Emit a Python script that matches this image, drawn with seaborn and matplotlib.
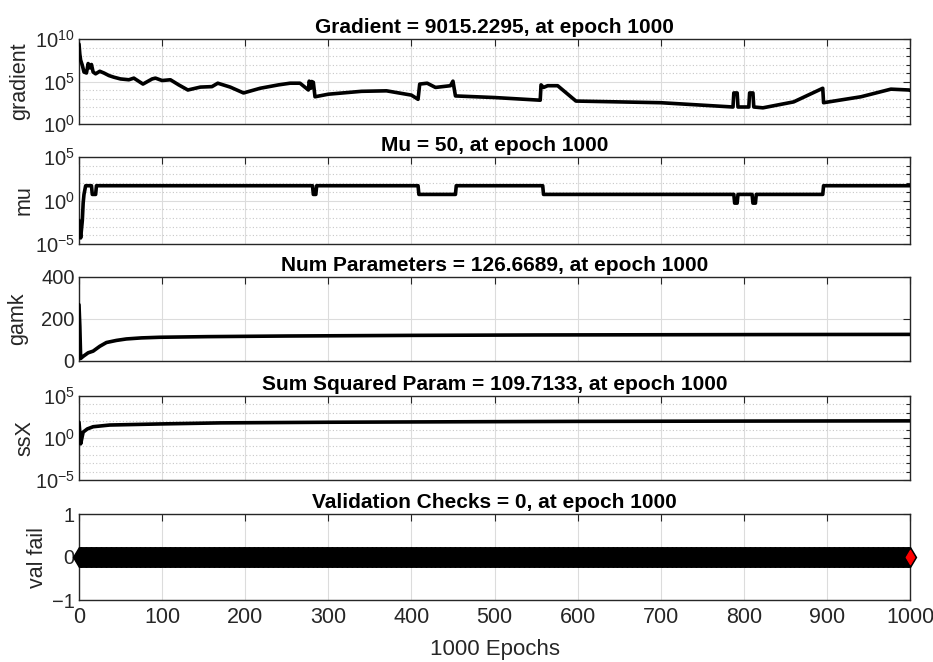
import numpy as np
import pandas as pd
import matplotlib
matplotlib.use("Agg")
import matplotlib.pyplot as plt
import matplotlib.ticker as mticker
import seaborn as sns

# ---------------- data ----------------
grad_epochs = [0, 1, 2, 4, 6, 9, 11, 13, 15, 17, 20, 25, 30, 36, 42, 50, 60, 66, 77, 88, 92,
               100, 110, 120, 131, 146, 160, 167, 182, 198, 218, 240, 254, 266, 276, 277, 278,
               279, 280, 282, 284, 300, 340, 370, 400, 408, 410, 419, 429, 447, 450, 453, 500,
               555, 556, 559, 564, 576, 598, 700, 787, 788, 792, 793, 806, 807, 811, 812, 823,
               860, 895, 896, 941, 977, 999, 1000]
grad_values = [2.5e9, 1.6e8, 3.2e7, 8e6, 1.3e6, 1e6, 1.3e7, 4e6, 1e7, 1.3e6, 8e5, 1.6e6, 1e6,
               5e5, 3.2e5, 2e5, 1.6e5, 2.5e5, 5e4, 2e5, 2.5e5, 1.3e5, 1.6e5, 4e4, 1e4, 2.2e4,
               2.5e4, 6.3e4, 2.2e4, 4.5e3, 1.6e4, 4e4, 6.3e4, 6.3e4, 1e4, 1.1e5, 6.3e4, 1.6e4,
               1e5, 8e4, 1.6e3, 3.2e3, 7e3, 8e3, 2.5e3, 800, 5e4, 6.3e4, 2e4, 3.2e4, 1.1e5, 2e3,
               1.3e3, 630, 4e4, 2e4, 3.2e4, 3.2e4, 500, 320, 100, 4.5e3, 4.5e3, 100, 100, 4.5e3,
               4.5e3, 100, 80, 400, 1.6e4, 320, 1.6e3, 1.26e4, 1e4, 9015.2295]

mu_epochs = [0, 1, 2, 3, 4, 5, 6, 8, 15, 16, 20, 21, 281, 282, 285, 286, 408, 409, 453, 454,
             558, 559, 788, 789, 792, 793, 810, 811, 814, 815, 895, 896, 1000]
mu_values = [0.005, 0.0005, 0.00005, 0.0005, 0.005, 0.5, 5, 50, 50, 5, 5, 50, 50, 5, 5, 50,
             50, 5, 5, 50, 50, 5, 5, 0.5, 0.5, 5, 5, 0.5, 0.5, 5, 5, 50, 50]

gamk_epochs = [0, 1, 2, 5, 11, 17, 25, 33, 45, 57, 75, 97, 154, 250, 400, 550, 700, 850, 1000]
gamk_values = [268, 165, 12, 22, 39, 47, 70, 88, 98, 105, 110, 113, 116, 119, 122, 124, 125,
               126, 126.6689]

ssx_epochs = [0, 1, 2, 5, 10, 17, 37, 97, 170, 300, 450, 600, 800, 1000]
ssx_values = [75, 5, 0.2, 5, 12, 22, 35, 47, 63, 75, 85, 95, 103, 109.7133]

val_epochs = list(range(0, 1001))
val_fail = [0] * len(val_epochs)

titles = ["Gradient = 9015.2295, at epoch 1000",
          "Mu = 50, at epoch 1000",
          "Num Parameters = 126.6689, at epoch 1000",
          "Sum Squared Param = 109.7133, at epoch 1000",
          "Validation Checks = 0, at epoch 1000"]
ylabels = ["gradient", "mu", "gamk", "ssX", "val fail"]
x_ticks = [0, 100, 200, 300, 400, 500, 600, 700, 800, 900, 1000]
x_label = "1000 Epochs"

# ---------------- style ----------------
sns.set_theme(style="white")
plt.rcParams["font.family"] = ["Liberation Sans", "DejaVu Sans"]
plt.rcParams["mathtext.fontset"] = "custom"
plt.rcParams["mathtext.rm"] = "Liberation Sans"
plt.rcParams["mathtext.default"] = "regular"

AX_COLOR = "#262626"
GRID_MAJOR = "#dcdcdc"
GRID_MINOR = "#c8c8c8"

W, H = 933, 662
fig = plt.figure(figsize=(W / 100, H / 100), dpi=100)
fig.patch.set_facecolor("white")
left_px, right_px = 79, 910
panels = [(39, 124), (157, 244), (277, 361), (396, 480), (514, 600)]
label_right_px = [30, 35, 28, 35, 48]

axes = []
for (top, bot) in panels:
    ax = fig.add_axes([left_px / W, 1 - bot / H, (right_px - left_px) / W, (bot - top) / H])
    axes.append(ax)

series = [(grad_epochs, grad_values), (mu_epochs, mu_values), (gamk_epochs, gamk_values),
          (ssx_epochs, ssx_values)]
for ax, (ex, vy) in zip(axes[:4], series):
    df = pd.DataFrame({"epoch": ex, "value": vy})
    sns.lineplot(data=df, x="epoch", y="value", ax=ax, color="black", linewidth=2.6,
                 estimator=None, sort=False, zorder=3)

# validation checks
dfv = pd.DataFrame({"epoch": val_epochs, "value": val_fail})
sns.lineplot(data=dfv, x="epoch", y="value", ax=axes[4], color="black", linewidth=2,
             marker="d", markersize=10, markeredgewidth=1, markeredgecolor="black",
             estimator=None, sort=False, zorder=3, clip_on=False)
dfe = pd.DataFrame({"epoch": val_epochs[-1:], "value": val_fail[-1:]})
sns.scatterplot(data=dfe, x="epoch", y="value", ax=axes[4], marker="d", s=55, color="red",
                edgecolor="red", linewidth=0.8, zorder=5, clip_on=False)

# log-scale panels
def log_axis(ax, lo, hi, majors):
    ax.set_yscale("log")
    ax.set_ylim(10.0 ** lo, 10.0 ** hi)
    ax.yaxis.set_major_locator(mticker.FixedLocator([10.0 ** m for m in majors]))
    ax.yaxis.set_minor_locator(mticker.FixedLocator([10.0 ** k for k in range(lo, hi + 1)
                                                     if k not in majors]))
    ax.yaxis.set_major_formatter(mticker.LogFormatterSciNotation())
    ax.yaxis.set_minor_formatter(mticker.NullFormatter())
    ax.grid(True, which="minor", axis="y", color=GRID_MINOR, linestyle=(0, (1, 2)), linewidth=0.8)

log_axis(axes[0], 0, 10, [0, 5, 10])
log_axis(axes[1], -5, 5, [-5, 0, 5])
log_axis(axes[3], -5, 5, [-5, 0, 5])

axes[2].set_ylim(0, 400)
axes[2].set_yticks([0, 200, 400])
axes[4].set_ylim(-1, 1)
axes[4].set_yticks([-1, 0, 1])

for i, ax in enumerate(axes):
    ax.set_xlim(0, 1000)
    ax.set_xticks(x_ticks)
    ax.set_facecolor("white")
    ax.grid(True, which="major", axis="both", color=GRID_MAJOR, linestyle="-", linewidth=0.8)
    ax.set_axisbelow(True)
    for sp in ax.spines.values():
        sp.set_visible(True)
        sp.set_color(AX_COLOR)
        sp.set_linewidth(1.0)
    ax.tick_params(which="major", direction="in", top=True, right=True, length=5,
                   width=0.8, color=AX_COLOR, labelcolor=AX_COLOR, labelsize=14.5, pad=3)
    ax.tick_params(which="minor", direction="in", top=False, right=True, length=3,
                   width=0.8, color=AX_COLOR)
    ax.set_title(titles[i], fontsize=15, fontweight="bold", color="black", pad=4)
    ax.set_ylabel(ylabels[i], fontsize=15.5, color=AX_COLOR)
    ax.yaxis.set_label_coords((label_right_px[i] - left_px) / (right_px - left_px), 0.5)
    if i < 4:
        ax.tick_params(axis="x", labelbottom=False)
        ax.set_xlabel("")
    else:
        ax.tick_params(axis="x", labelsize=15.5, pad=5)
        ax.set_xlabel(x_label, fontsize=16, color=AX_COLOR, labelpad=8)

fig.savefig("out.png", dpi=100, facecolor="white")
